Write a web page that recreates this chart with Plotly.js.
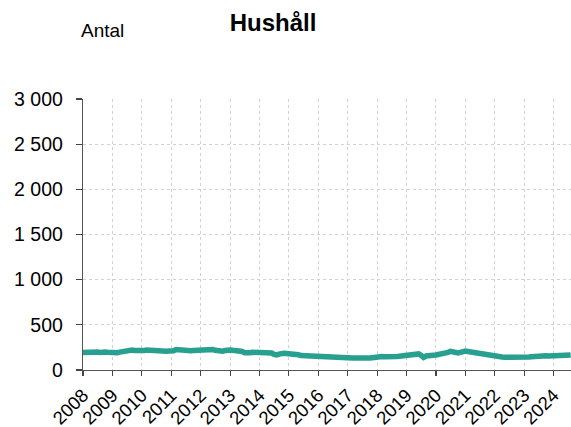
<!DOCTYPE html>
<html>
<head>
<meta charset="utf-8">
<script src="https://cdn.plot.ly/plotly-3.0.1.min.js"></script>
<style>html,body{margin:0;padding:0;background:#fff;}#chart{width:571px;height:427px;}</style>
</head>
<body>
<div id="chart"></div>
<script>
// Monthly values, Jan 2008 onwards
const startYear = 2008;
const values = [
  195,198,193,200,197,203,199,195,201,198,196,192, // 2008
  190,194,192,198,205,212,218,215,220,216,213,218, // 2009
  220,217,222,219,215,212,216,214,210,212,208,211, // 2010
  210,214,226,222,218,212,210,214,212,215,218,216, // 2011
  214,218,222,228,230,226,218,210,203,208,216,222, // 2012
  222,218,214,217,215,205,190,186,190,196,194,197, // 2013
  196,198,195,196,192,188,172,166,176,185,186,183, // 2014
  181,180,182,176,168,160,158,159,162,156,154,152, // 2015
  151,150,152,148,147,149,146,144,143,140,136,135, // 2016
  133,134,132,133,131,135,133,132,130,133,136,140, // 2017
  151,150,148,147,145,144,146,148,150,152,155,158, // 2018
  159,162,165,170,176,178,162,140,155,162,166,164, // 2019
  166,170,174,177,185,195,206,200,192,188,196,206, // 2020
  210,205,200,194,190,186,182,178,172,166,160,156, // 2021
  158,152,148,144,141,140,139,141,140,138,140,142, // 2022
  140,142,143,146,150,152,151,152,155,157,156,158, // 2023
  159,161,160,163,166,164,167,166                  // 2024
];
const yTickVals = [0, 500, 1000, 1500, 2000, 2500, 3000];
const yTickText = ["0", "500", "1 000", "1 500", "2 000", "2 500", "3 000"];
const yearTicks = [];
for (let y = 2008; y <= 2024; y++) yearTicks.push(y + "-01-01");
const yearLabels = yearTicks.map(d => d.slice(0, 4));

const dates = values.map((v, i) => {
  const y = startYear + Math.floor(i / 12);
  const m = (i % 12) + 1;
  return y + "-" + (m < 10 ? "0" + m : m) + "-01";
});

const font = "Liberation Sans, Arial, sans-serif";
const trace = {
  x: dates, y: values, type: "scatter", mode: "lines",
  line: {color: "#28a08f", width: 5.5},
  hoverinfo: "skip"
};
const layout = {
  width: 571, height: 427,
  margin: {l: 83, r: 0, t: 99, b: 57},
  paper_bgcolor: "#fff", plot_bgcolor: "#fff",
  font: {family: font, size: 19, color: "#000"},
  showlegend: false,
  title: {text: "<b>Hushåll</b>", font: {family: font, size: 24, color: "#000"},
          x: 273/571, xanchor: "center", xref: "container", y: 1 - 23/427, yanchor: "middle", yref: "container"},
  annotations: [{text: "Antal", xref: "paper", yref: "paper", x: (102 - 83)/488, y: 1 + (99 - 30)/271,
                 xanchor: "center", yanchor: "middle", showarrow: false, font: {family: font, size: 19, color: "#000"}}],
  xaxis: {
    type: "date", range: ["2008-01-01", "2024-08-05"],
    tickvals: yearTicks, ticktext: yearLabels, tickangle: -45,
    ticks: "outside", ticklen: 5, tickcolor: "#444", tickwidth: 1.2,
    ticklabelstandoff: 1,
    showline: true, linecolor: "#555", linewidth: 1.2,
    showgrid: true, gridcolor: "#d2d2d2", griddash: "dot", gridwidth: 1,
    zeroline: false, tickfont: {family: font, size: 18.5, color: "#000"}
  },
  yaxis: {
    range: [0, 3000], tickvals: yTickVals, ticktext: yTickText,
    ticks: "outside", ticklen: 6, tickcolor: "#444", tickwidth: 1.2,
    ticklabelstandoff: 9,
    showline: true, linecolor: "#555", linewidth: 1.2,
    showgrid: true, gridcolor: "#d2d2d2", griddash: "dot", gridwidth: 1,
    zeroline: false, tickfont: {family: font, size: 19.5, color: "#000"}
  }
};
Plotly.newPlot("chart", [trace], layout, {staticPlot: true, displayModeBar: false});
</script>
</body>
</html>
